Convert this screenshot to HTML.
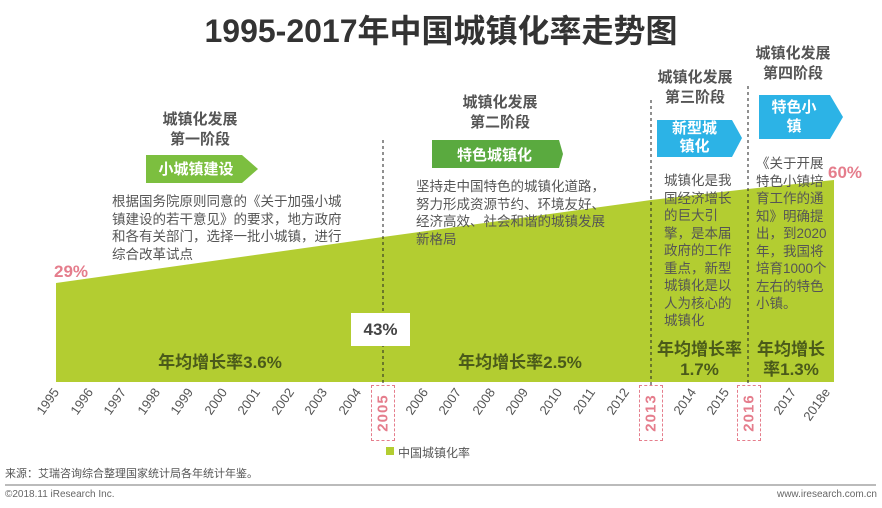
<!DOCTYPE html>
<html><head><meta charset="utf-8"><style>
body{margin:0;width:882px;height:508px;background:#fff;position:relative;overflow:hidden;font-family:"Liberation Sans","Noto Sans CJK SC",sans-serif;color:#444}
.a{position:absolute;white-space:nowrap}
.st{font-weight:bold;font-size:15px;color:#555;text-align:center;line-height:20px}
.desc{font-size:13.5px;color:#555;line-height:17.5px}
.rate{font-weight:bold;font-size:17px;color:#4a5a1a;text-align:center;line-height:20px}
.yr{font-size:13px;color:#555;transform:rotate(-55deg);transform-origin:right center;text-align:right;width:40px}
.box{position:absolute;border:1px dashed #e57d8c;width:22px;height:54px;top:385px}
.box span{position:absolute;left:50%;top:50%;transform:translate(-50%,-50%) rotate(-90deg);font-weight:bold;color:#e57d8c;font-size:15px;letter-spacing:1px}
</style></head><body>
<div class="a" style="left:0;width:882px;text-align:center;top:6px;font-size:32px;font-weight:bold;color:#333">1995-2017年中国城镇化率走势图</div>
<svg class="a" style="left:0;top:0" width="882" height="508">
<polygon points="56,283 383,237 651,200 748,189 834,180 834,382 56,382" fill="#b3cd31"/>
<g stroke="#222" stroke-width="1" stroke-dasharray="3,3">
<line x1="383" y1="140" x2="383" y2="385"/><line x1="651" y1="100" x2="651" y2="385"/><line x1="748" y1="86" x2="748" y2="385"/></g>
<polygon points="146,155 242,155 258,169 242,183 146,183" fill="#7cbf3f"/>
<polygon points="432,140 559,140 563,154 559,168 432,168" fill="#5aaa3f"/>
<polygon points="657,120 732,120 742,138 732,157 657,157" fill="#2cb3e6"/>
<polygon points="759,95 830,95 843,117 830,139 759,139" fill="#2cb3e6"/>
<line x1="5" y1="485" x2="876" y2="485" stroke="#777" stroke-width="1"/>
<rect x="386" y="447" width="8" height="8" fill="#b3cd31"/>
</svg>
<div class="a st" style="left:140px;top:110px;width:120px">城镇化发展<br>第一阶段</div>
<div class="a st" style="left:430px;top:93px;width:140px">城镇化发展<br>第二阶段</div>
<div class="a st" style="left:650px;top:68px;width:90px">城镇化发展<br>第三阶段</div>
<div class="a st" style="left:748px;top:44px;width:90px">城镇化发展<br>第四阶段</div>
<div class="a" style="left:146px;top:158px;width:100px;text-align:center;color:#fff;font-weight:bold;font-size:15px">小城镇建设</div>
<div class="a" style="left:432px;top:144px;width:125px;text-align:center;color:#fff;font-weight:bold;font-size:15px">特色城镇化</div>
<div class="a" style="left:657px;top:120px;width:75px;text-align:center;color:#fff;font-weight:bold;font-size:15px;line-height:18px">新型城<br>镇化</div>
<div class="a" style="left:759px;top:98px;width:70px;text-align:center;color:#fff;font-weight:bold;font-size:15px;line-height:19px">特色小<br>镇</div>
<div class="a desc" style="left:112px;top:193px">根据国务院原则同意的《关于加强小城<br>镇建设的若干意见》的要求，地方政府<br>和各有关部门，选择一批小城镇，进行<br>综合改革试点</div>
<div class="a desc" style="left:416px;top:178px">坚持走中国特色的城镇化道路，<br>努力形成资源节约、环境友好、<br>经济高效、社会和谐的城镇发展<br>新格局</div>
<div class="a desc" style="left:664px;top:172px">城镇化是我<br>国经济增长<br>的巨大引<br>擎，是本届<br>政府的工作<br>重点，新型<br>城镇化是以<br>人为核心的<br>城镇化</div>
<div class="a desc" style="left:756px;top:155px">《关于开展<br>特色小镇培<br>育工作的通<br>知》明确提<br>出，到2020<br>年，我国将<br>培育1000个<br>左右的特色<br>小镇。</div>
<div class="a" style="left:54px;top:262px;font-weight:bold;font-size:17px;color:#e57d8c">29%</div>
<div class="a" style="left:828px;top:163px;font-weight:bold;font-size:17px;color:#e57d8c">60%</div>
<div class="a" style="left:351px;top:313px;width:59px;height:33px;background:#fff;text-align:center;line-height:33px;font-weight:bold;font-size:17px;color:#444">43%</div>
<div class="a rate" style="left:120px;top:353px;width:200px">年均增长率3.6%</div>
<div class="a rate" style="left:420px;top:353px;width:200px">年均增长率2.5%</div>
<div class="a rate" style="left:651px;top:340px;width:97px">年均增长率<br>1.7%</div>
<div class="a rate" style="left:748px;top:340px;width:86px">年均增长<br>率1.3%</div>
<div class="box" style="left:371px"><span>2005</span></div>
<div class="box" style="left:639px"><span>2013</span></div>
<div class="box" style="left:737px"><span>2016</span></div>
<div id="yrs"></div>
<div class="a" style="left:398px;top:444px;font-size:12px;color:#555">中国城镇化率</div>
<div class="a" style="left:5px;top:465px;font-size:11px;color:#555">来源：艾瑞咨询综合整理国家统计局各年统计年鉴。</div>
<div class="a" style="left:5px;top:489px;font-size:10px;color:#666">©2018.11 iResearch Inc.</div>
<div class="a" style="right:5px;top:489px;font-size:10px;color:#666">www.iresearch.com.cn</div>
<script>
var ys=['1995','1996','1997','1998','1999','2000','2001','2002','2003','2004','','2006','2007','2008','2009','2010','2011','2012','','2014','2015','','2017','2018e'];
var h='';ys.forEach(function(y,i){if(!y)return;var x=50+33.5*i;h+='<div class="a yr" style="left:'+(x-34)+'px;top:382px">'+y+'</div>';});
document.getElementById('yrs').innerHTML=h;
</script>
</body></html>
